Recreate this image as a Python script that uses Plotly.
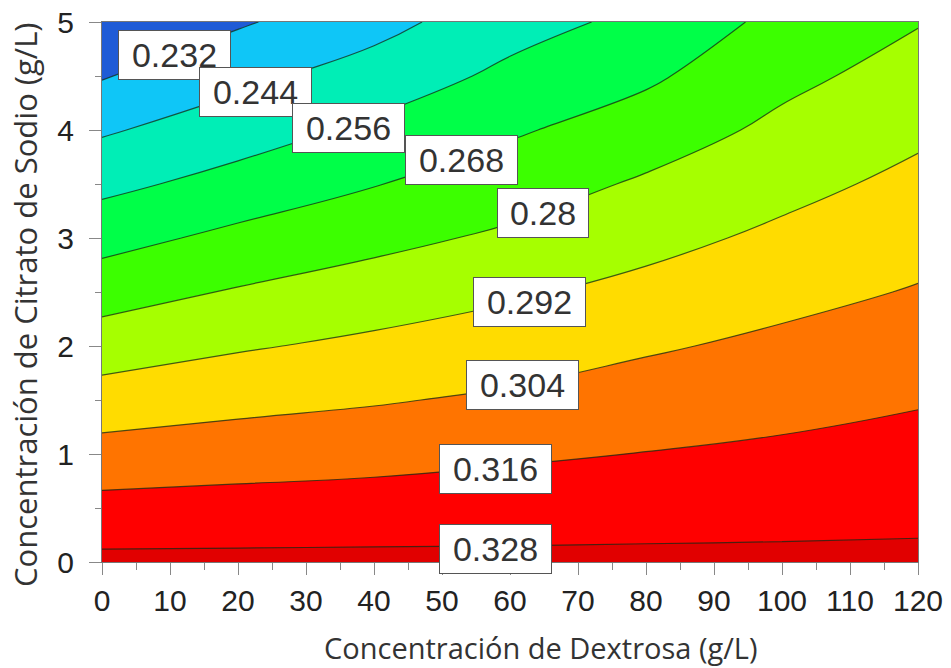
import plotly.graph_objects as go

# Grid (estimated response values)
dextrosa = [0, 20, 40, 60, 80, 100, 120]
citrato = [0, 0.5, 1.0, 1.5, 2.0, 2.5, 3.0, 3.5, 4.0, 4.5, 5.0]
z_y00 = [0.3306, 0.3306, 0.3306, 0.3304, 0.3304, 0.3303, 0.3302]
z_y05 = [0.3197, 0.3205, 0.3213, 0.3224, 0.3233, 0.3242, 0.3252]
z_y10 = [0.3084, 0.3104, 0.3120, 0.3143, 0.3163, 0.3181, 0.3201]
z_y15 = [0.2971, 0.3005, 0.3030, 0.3059, 0.3095, 0.3122, 0.3151]
z_y20 = [0.2860, 0.2908, 0.2945, 0.2981, 0.3026, 0.3065, 0.3099]
z_y25 = [0.2749, 0.2810, 0.2857, 0.2904, 0.2953, 0.3005, 0.3048]
z_y30 = [0.2638, 0.2710, 0.2767, 0.2821, 0.2884, 0.2944, 0.2998]
z_y35 = [0.2529, 0.2602, 0.2675, 0.2742, 0.2816, 0.2885, 0.2949]
z_y40 = [0.2426, 0.2504, 0.2584, 0.2665, 0.2738, 0.2827, 0.2898]
z_y45 = [0.2311, 0.2409, 0.2492, 0.2586, 0.2660, 0.2770, 0.2846]
z_y50 = [0.2200, 0.2306, 0.2399, 0.2515, 0.2590, 0.2713, 0.2794]
z_grid = [z_y00, z_y05, z_y10, z_y15, z_y20, z_y25, z_y30, z_y35, z_y40, z_y45, z_y50]

level_start = 0.232
level_end = 0.328
level_step = 0.012

band_colors = ['#1f5bd6', '#0fc6f7', '#00eeb6', '#00ff48', '#3cff00',
               '#a6ff00', '#ffdc00', '#ff7400', '#ff0000', '#e10000']

label_texts = ['0.232', '0.244', '0.256', '0.268', '0.28',
               '0.292', '0.304', '0.316', '0.328']
label_x = [10.6, 22.5, 36.2, 52.8, 64.9, 62.8, 61.8, 57.9, 57.9]
label_y = [4.69, 4.35, 4.02, 3.72, 3.23, 2.41, 1.64, 0.86, 0.12]

x_title = 'Concentración de Dextrosa (g/L)'
y_title = 'Concentración de Citrato de Sodio (g/L)'

n = len(band_colors)
colorscale = [[i / (n - 1), c] for i, c in enumerate(band_colors)]

fig = go.Figure(go.Contour(
    x=dextrosa, y=citrato, z=z_grid,
    contours=dict(start=level_start, end=level_end, size=level_step,
                  coloring='fill', showlines=True),
    colorscale=colorscale,
    line=dict(color='rgba(20,40,20,0.75)', width=1.2, smoothing=1.3),
    showscale=False, hoverinfo='skip',
))

for t, lx, ly in zip(label_texts, label_x, label_y):
    fig.add_annotation(
        x=lx, y=ly, text=t, showarrow=False,
        font=dict(family='Liberation Sans, Arial', size=34, color='#333333'),
        bgcolor='white', bordercolor='#555555', borderwidth=1, borderpad=5,
        width=101 if len(t) == 5 else 80, align='center',
    )

# axis titles (placed as in the reference, slightly off-centre)
fig.add_annotation(
    xref='paper', yref='paper', x=0.5, y=0, xanchor='center', yanchor='middle',
    xshift=31, yshift=-85, text=x_title, showarrow=False,
    font=dict(family='Open Sans', size=29, color='#333333'),
)
fig.add_annotation(
    xref='paper', yref='paper', x=0, y=0.5, xanchor='center', yanchor='middle',
    xshift=-77, yshift=-13, text=y_title, showarrow=False, textangle=-90,
    font=dict(family='Open Sans', size=31, color='#333333'),
)

axis_common = dict(
    showgrid=False, zeroline=False,
    showline=True, linecolor='#777777', linewidth=1, mirror=True,
    ticks='outside', ticklen=12, tickcolor='#888888', tickwidth=1,
    ticklabeloverflow='allow',
    tickfont=dict(family='Liberation Sans, Arial', size=30, color='#222222'),
)

fig.update_xaxes(
    range=[0, 120], tickmode='linear', tick0=0, dtick=10,
    minor=dict(ticks='outside', ticklen=7, dtick=5, tickcolor='#888888'),
    **axis_common,
)
fig.update_yaxes(
    range=[0, 5], tickmode='linear', tick0=0, dtick=1,
    minor=dict(ticks='outside', ticklen=6, dtick=0.5, tickcolor='#888888'),
    ticklabelstandoff=9,
    **axis_common,
)

fig.update_layout(
    width=951, height=668,
    margin=dict(l=102, r=33, t=22, b=106, autoexpand=False),
    paper_bgcolor='white', plot_bgcolor='white',
    showlegend=False,
)

fig.write_html('out.html',
               config={'displayModeBar': False},
               post_script="document.body.style.margin='0';"
                           "document.body.style.overflow='hidden';")
